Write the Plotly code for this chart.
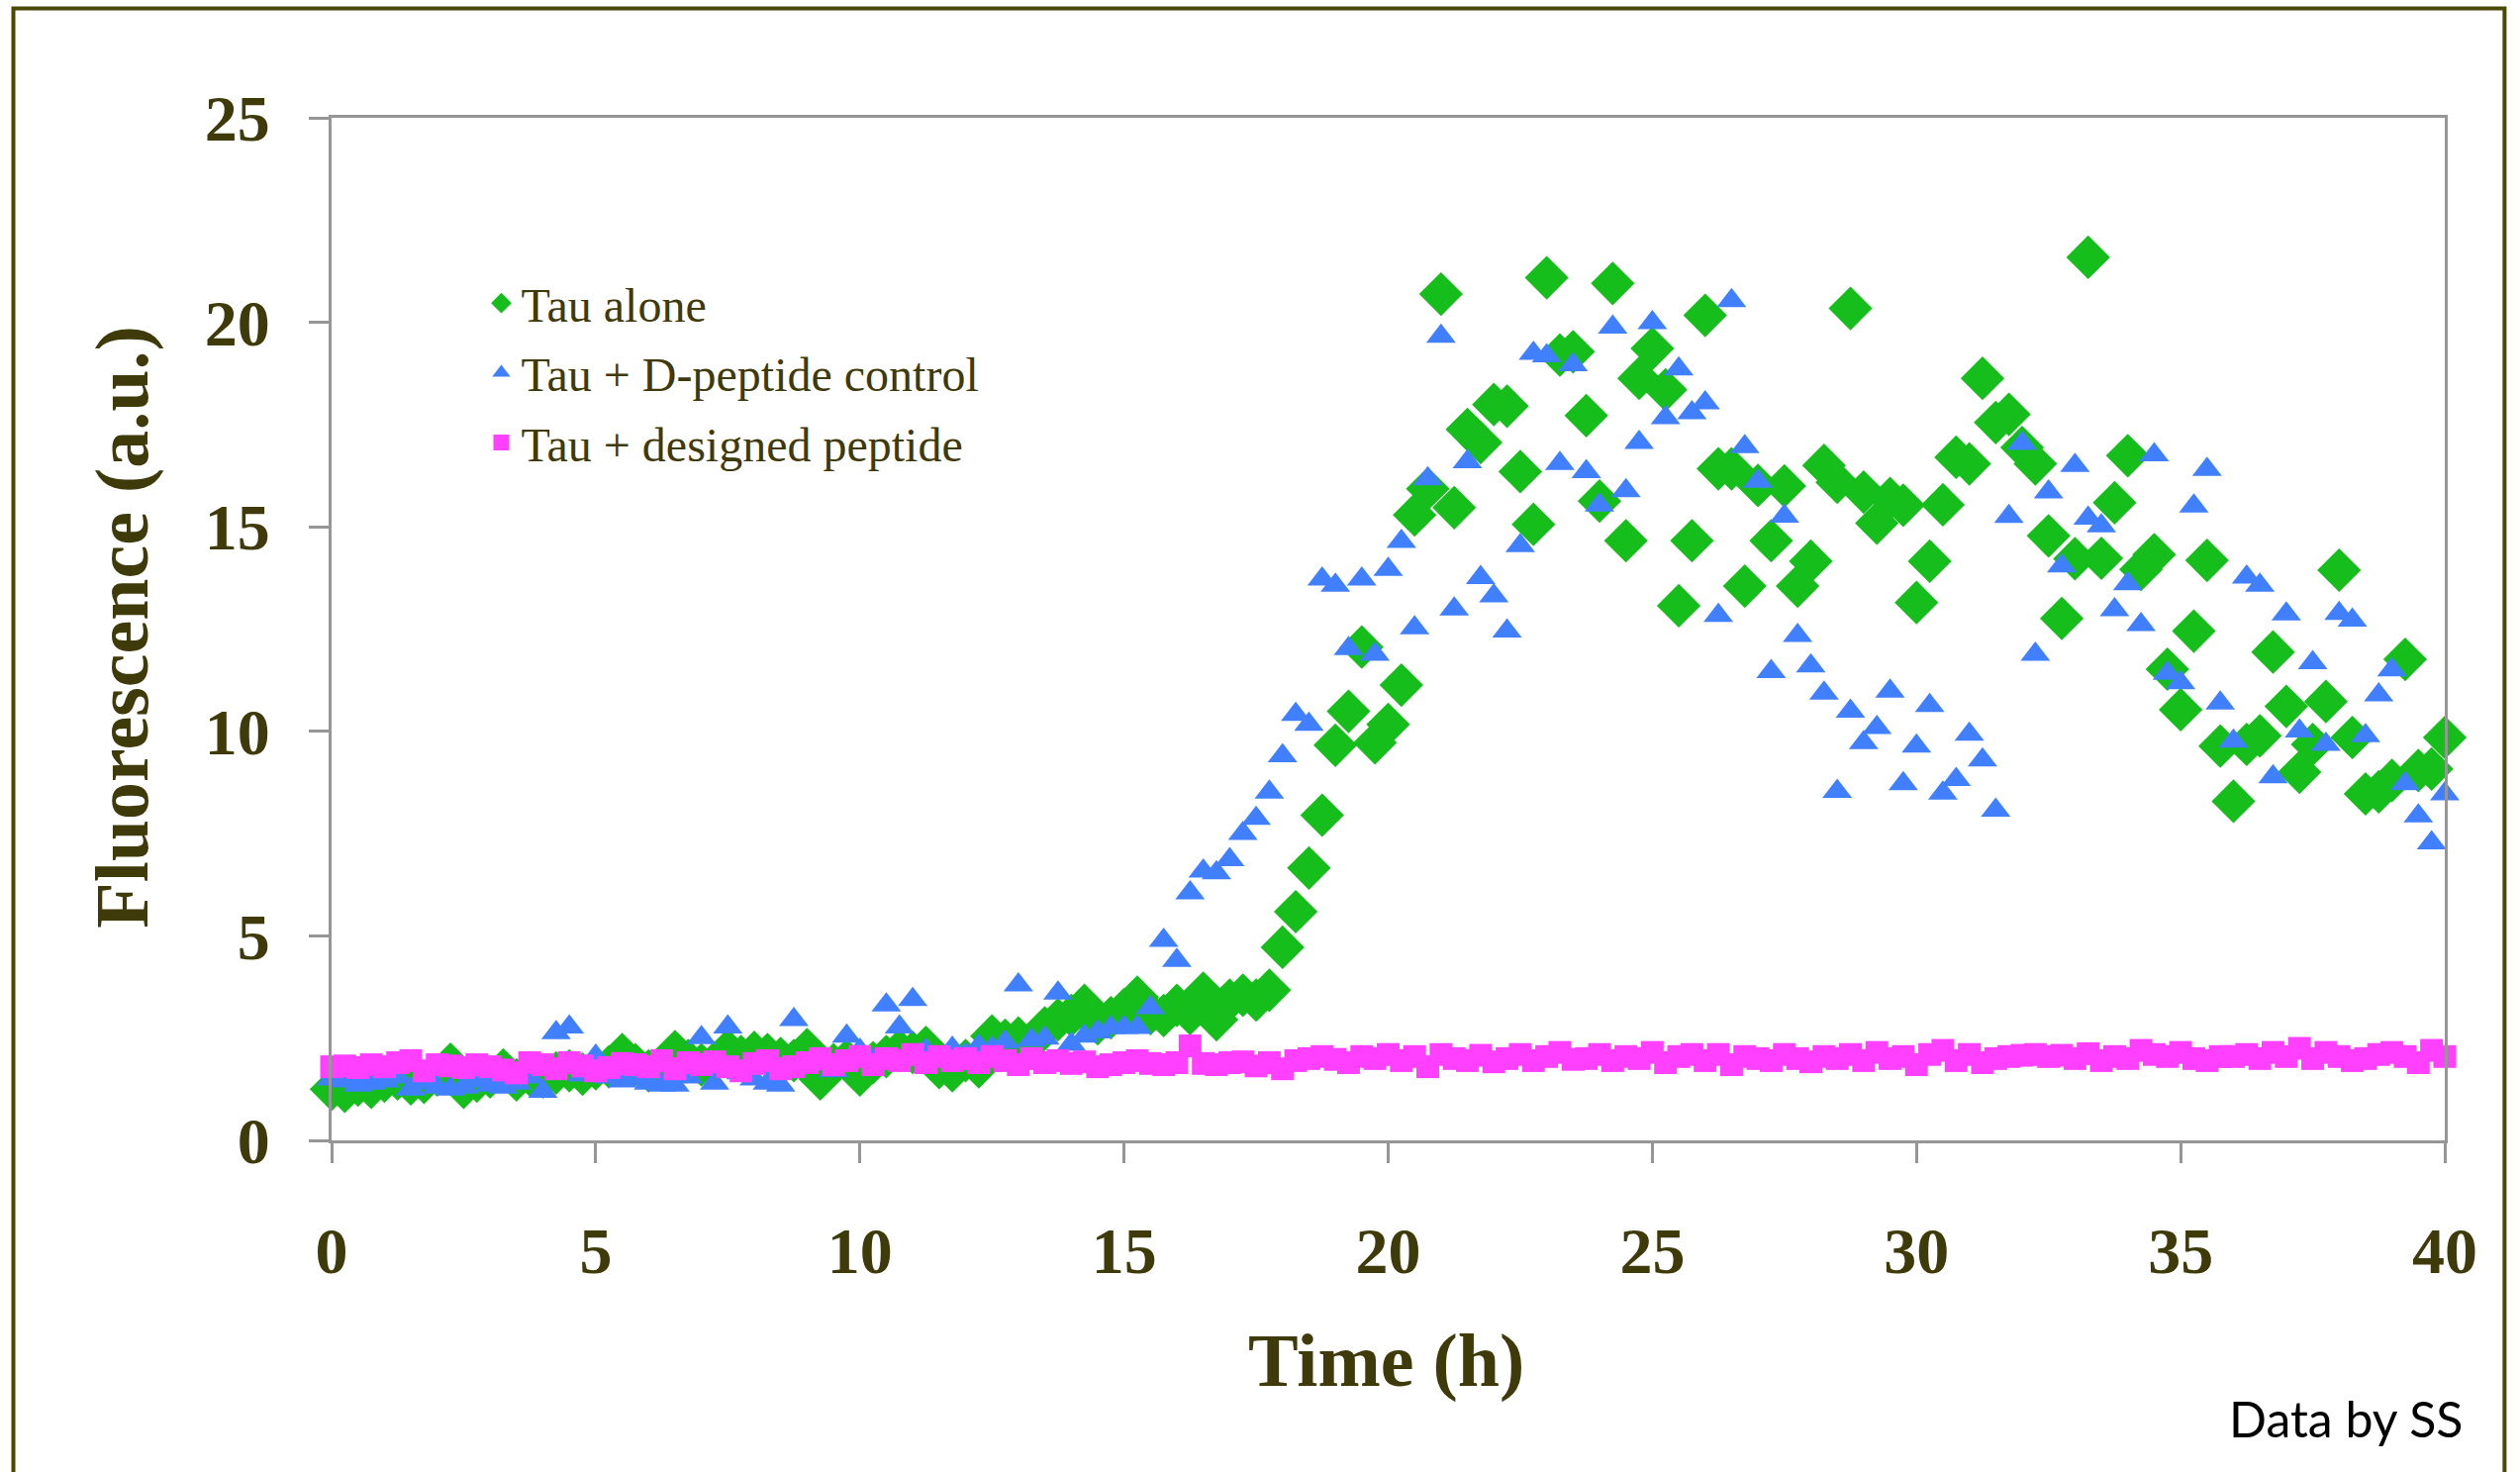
import plotly.graph_objects as go

# time axis (h), 15-min sampling
time_h = [i * 0.25 for i in range(161)]

tau_alone = [
    1.25, 1.20, 1.35, 1.30, 1.45, 1.50, 1.38, 1.42, 1.60, 1.86, 1.30, 1.45, 1.55, 1.72, 1.48, 1.60,
    1.55, 1.65, 1.70, 1.62, 1.75, 1.80, 2.10, 1.85, 1.70, 1.78, 2.17, 1.95, 1.85, 1.90, 2.20, 2.05,
    2.15, 2.10, 2.00, 1.95, 2.22, 1.50, 1.85, 1.95, 1.60, 1.90, 2.05, 2.20, 2.15, 2.27, 1.78, 1.70,
    1.95, 1.80, 2.55, 2.45, 2.50, 2.40, 2.75, 2.95, 3.05, 3.30, 2.85, 3.00, 3.20,
    3.50, 3.10, 3.05, 3.30, 3.10, 3.60, 2.95, 3.43, 3.55, 3.43, 3.67, 4.72, 5.59, 6.66, 7.95,
    9.66, 10.49, 12.06, 9.72, 10.17, 11.13, 15.29, 15.93, 20.69, 15.47, 17.38, 17.06, 17.99, 17.95,
    16.35, 15.06, 21.09, 19.20, 19.28, 17.72, 15.63, 20.95, 14.66, 18.63, 19.36, 18.35, 13.07, 14.66,
    20.17, 16.42, 16.42, 13.55, 16.01, 14.66, 16.00, 13.55, 14.16, 16.50, 16.09, 20.34, 15.85, 15.09,
    15.69, 15.53, 13.15, 14.16, 15.54, 16.70, 16.54, 18.63, 17.55, 17.75, 16.94, 16.54, 14.78, 12.76,
    14.22, 21.59, 14.23, 15.59, 16.74, 13.96, 14.32, 11.52, 10.53, 12.45, 14.18, 9.64, 8.29, 9.68,
    9.89, 11.94, 10.61, 9.00, 9.68, 10.73, 13.94, 9.85, 8.47, 8.52, 8.80, 11.76, 9.04, 9.08, 9.85,
]

tau_d_control = [
    1.50, 1.45, 1.35, 1.40, 1.45, 1.55, 1.25, 1.40, 1.30, 1.25, 1.30, 1.45, 1.35, 1.30, 1.40, 1.55,
    1.20, 2.63, 2.77, 1.60, 2.06, 1.55, 1.45, 1.50, 1.40, 1.35, 1.35, 1.55, 2.51, 1.40, 2.77, 1.65,
    1.50, 1.40, 1.35, 2.95, 1.85, 1.90, 1.70, 2.55, 2.20, 1.95, 3.31, 2.77, 3.44, 2.20, 2.00, 2.25,
    2.10, 2.30, 2.25, 2.40, 3.80, 2.45, 2.50, 3.60, 2.35, 2.55, 2.65, 2.75, 2.76,
    2.76, 3.24, 4.89, 4.40, 6.05, 6.58, 6.54, 6.86, 7.50, 7.87, 8.51, 9.40, 10.41, 10.17, 13.72,
    13.57, 12.02, 13.72, 11.88, 13.96, 14.64, 12.53, 16.17, 19.66, 12.99, 16.59, 13.76, 13.31, 12.45,
    14.54, 19.24, 19.18, 16.55, 18.96, 16.35, 15.53, 19.88, 15.88, 17.06, 19.99, 17.67, 18.86, 17.79,
    18.03, 12.83, 20.53, 16.96, 16.11, 11.46, 15.26, 12.34, 11.60, 10.93, 8.53, 10.49, 9.72, 10.09,
    10.98, 8.72, 9.64, 10.63, 8.49, 8.82, 9.93, 9.30, 8.07, 15.25, 17.04, 11.88, 15.85, 14.04,
    16.50, 15.21, 15.02, 12.97, 13.61, 12.61, 16.76, 11.42, 11.19, 15.51, 16.40, 10.69, 9.76, 13.77,
    13.57, 8.89, 12.87, 10.01, 11.68, 9.68, 12.88, 12.72, 9.89, 10.89, 11.50, 8.72, 7.93, 7.27, 8.47,
]

tau_designed = [
    1.80, 1.82, 1.78, 1.85, 1.80, 1.90, 1.95, 1.70, 1.85,
    1.82, 1.78, 1.85, 1.80, 1.72, 1.65, 1.90, 1.85,
    1.75, 1.90, 1.82, 1.70, 1.78, 1.88, 1.85, 1.80,
    1.95, 1.75, 1.90, 1.85, 1.92, 1.80, 1.70, 1.88,
    1.95, 1.75, 1.80, 1.90, 2.00, 1.85, 1.95, 2.05,
    1.85, 2.00, 1.95, 2.10, 1.90, 2.05, 1.95, 2.00,
    1.90, 2.05, 1.95, 1.85, 2.00, 1.90, 1.95, 1.88,
    1.92, 1.80, 1.85, 1.90, 1.95, 1.88, 1.85, 1.90,
    2.31, 1.88, 1.85, 1.90, 1.92, 1.82, 1.90, 1.75,
    1.95, 2.00, 2.05, 1.98, 1.90, 2.05, 2.00, 2.10,
    1.95, 2.05, 1.80, 2.10, 2.00, 1.95, 2.08, 1.92,
    2.00, 2.10, 1.95, 2.05, 2.15, 1.98, 2.00, 2.10,
    1.95, 2.05, 2.00, 2.15, 1.90, 2.05, 2.10, 1.95,
    2.10, 1.85, 2.05, 2.00, 1.95, 2.10, 2.00, 1.92,
    2.05, 2.00, 2.10, 1.95, 2.15, 2.00, 2.05, 1.85,
    2.10, 2.20, 1.95, 2.10, 1.90, 2.00, 2.05, 2.08,
    2.10, 2.05, 2.08, 2.00, 2.12, 1.95, 2.05, 2.00,
    2.20, 2.10, 2.05, 2.15, 2.00, 1.95, 2.05, 2.05,
    2.10, 2.00, 2.15, 2.05, 2.25, 2.00, 2.15, 2.05,
    1.95, 2.00, 2.10, 2.15, 2.05, 1.90, 2.20, 2.05,
]

series_names = ["Tau alone", "Tau + D-peptide control", "Tau + designed peptide"]
x_ticks = [0, 5, 10, 15, 20, 25, 30, 35, 40]
y_ticks = [0, 5, 10, 15, 20, 25]

W, H = 2546, 1487
L, R, T, B = 334.5, 2469.6, 118.5, 1152.0

OLIVE = "#3F3A0A"
GRAY = "#969696"
SERIF = "Liberation Serif, Times New Roman, serif"

fig = go.Figure()
styles = [
    dict(symbol="diamond", size=34, color="#15BE1B"),
    dict(symbol="triangle-up", size=26, color="#4080FF"),
    dict(symbol="square", size=23, color="#FF40FF"),
]
for name, ys, st, grp in zip(series_names, [tau_alone, tau_d_control, tau_designed], styles, ["g1", "g2", "g3"]):
    fig.add_trace(go.Scatter(
        x=time_h, y=ys, mode="markers", name=name, legendgroup=grp,
        marker=dict(symbol=st["symbol"], size=st["size"], color=st["color"], line=dict(width=0)),
        cliponaxis=False,
    ))

axis_common = dict(
    showline=True, linecolor=GRAY, linewidth=3, mirror=True,
    ticks="outside", ticklen=20, tickwidth=3, tickcolor=GRAY,
    showgrid=False, zeroline=False,
    tickfont=dict(family=SERIF, size=66, color=OLIVE, weight="bold"),
)

fig.update_layout(
    width=W, height=H,
    margin=dict(l=L, r=W - R, t=T, b=H - B, pad=0),
    paper_bgcolor="white", plot_bgcolor="white",
    xaxis=dict(range=[0, 40], tickvals=x_ticks, ticklabelstandoff=32, **axis_common),
    yaxis=dict(range=[0, 25], tickvals=y_ticks, ticklabelstandoff=26, **axis_common),
    showlegend=True,
    legend=dict(
        x=(486 - L) / (R - L), y=(B - 268) / (B - T), xanchor="left", yanchor="top",
        bgcolor="rgba(0,0,0,0)", borderwidth=0,
        font=dict(family=SERIF, size=48, color=OLIVE),
        tracegroupgap=5, itemsizing="trace",
    ),
    font=dict(family=SERIF, color=OLIVE),
)

pw, ph = R - L, B - T
def px2paper(xp, yp):
    return (xp - L) / pw, (B - yp) / ph

ax, ay = px2paper(1400, 1375)
fig.add_annotation(x=ax, y=ay, xref="paper", yref="paper", text="<b>Time (h)</b>",
                   showarrow=False, xanchor="center", yanchor="middle",
                   font=dict(family=SERIF, size=76, color=OLIVE))
ax, ay = px2paper(123, 633)
fig.add_annotation(x=ax, y=ay, xref="paper", yref="paper", text="<b>Fluorescence (a.u.)</b>",
                   showarrow=False, xanchor="center", yanchor="middle", textangle=-90,
                   font=dict(family=SERIF, size=76, color=OLIVE))
ax, ay = px2paper(2490, 1433)
fig.add_annotation(x=ax, y=ay, xref="paper", yref="paper", text="Data by SS",
                   showarrow=False, xanchor="right", yanchor="middle",
                   font=dict(family="Lato, Open Sans, sans-serif", size=50, color="black"))

x0, y0 = px2paper(13, 8)
x1, y1 = px2paper(2530, 1520)
fig.add_shape(type="rect", xref="paper", yref="paper", x0=x0, y0=y1, x1=x1, y1=y0,
              line=dict(color="#4B4800", width=4), fillcolor="rgba(0,0,0,0)", layer="below")

fig.write_html("out.html")
